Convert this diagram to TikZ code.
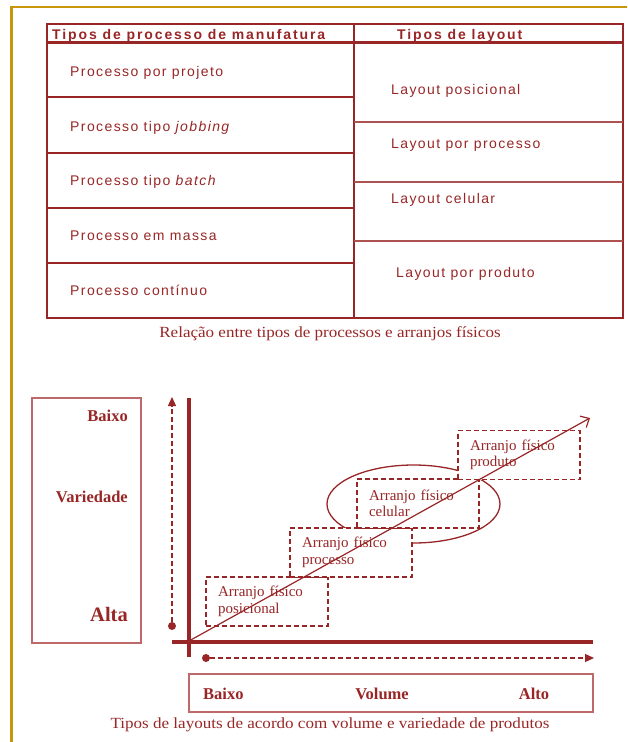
\documentclass[tikz,border=0pt]{standalone}
\usepackage{fontspec}
\setmainfont{Liberation Serif}
\newfontfamily\tabfont[LetterSpace=10]{Liberation Sans}
\newfontfamily\headfont[LetterSpace=13.5]{Liberation Sans}
\newfontfamily\capfont[FakeStretch=1.1]{Liberation Serif}
\usetikzlibrary{arrows.meta,shapes.geometric,positioning}
\definecolor{wine}{RGB}{152,38,38}
\definecolor{winelt}{RGB}{190,105,105}
\definecolor{gold}{RGB}{200,150,10}
\tikzset{
  % table rules
  tabrule/.style={draw=wine, line width=2.4pt},
  thinrule/.style={draw=wine!80, line width=1.3pt},
  % table texts
  celltext/.style={anchor=base west, inner sep=0pt, text=wine,
                   font=\tabfont\fontsize{14}{16}\selectfont},
  headtext/.style={celltext, font=\headfont\bfseries\fontsize{14}{16}\selectfont},
  % captions under each figure
  captext/.style={text=wine, inner sep=0pt, font=\capfont\fontsize{15.5}{17}\selectfont},
  % dashed layout boxes
  arranjo/.style={draw=wine, dash pattern=on 5pt off 3pt, line width=1.3pt, fill=white,
                  minimum width=122pt, minimum height=49pt, text width=98pt, inner xsep=12pt,
                  align=left, text=wine, font=\fontsize{15}{16.5}\selectfont},
  % axes and guides
  axis/.style={draw=wine, line width=4.5pt},
  guide/.style={draw=wine, line width=1.3pt, dash pattern=on 5pt off 3pt,
                -{Triangle[length=9pt,width=8pt]}},
  trend/.style={draw=wine, line width=1.2pt, -{Straight Barb[length=7pt,width=13pt]}},
  dot/.style={circle, fill=wine, inner sep=0pt, minimum size=8pt},
  % legend boxes
  legbox/.style={draw=winelt, line width=1.2pt, inner sep=0pt},
  legtext/.style={text=wine, inner sep=0pt, font=\bfseries\fontsize{16.5}{18}\selectfont},
}
\begin{document}
\begin{tikzpicture}[x=1pt, y=-1pt]
  \useasboundingbox (0,0) rectangle (627,742);
  % frame
  \draw[gold, line width=2.6pt] (627,7) -- (11.5,7) -- (11.5,742);

  % table of process and layout types
  \draw[tabrule] (47,24) rectangle (623,318);
  \draw[tabrule] (47,42.5) -- (623,42.5);
  \draw[tabrule] (354,24) -- (354,318);
  \foreach \y in {97,153,208,263}
    \draw[tabrule] (47,\y) -- (354,\y);
  \foreach \y in {122,182,241}
    \draw[thinrule] (354,\y) -- (623,\y);

  \node[headtext] (hproc) at (52,39) {Tipos de processo de manufatura};
  \node[headtext] (hlay) at (397,39) {Tipos de layout};

  \node[celltext] (projeto) at (70,76) {Processo por projeto};
  \node[celltext] (jobbing) at (70,131) {Processo tipo \textit{jobbing}};
  \node[celltext] (batch) at (70,185) {Processo tipo \textit{batch}};
  \node[celltext] (massa) at (70,240) {Processo em massa};
  \node[celltext] (continuo) at (70,295) {Processo contínuo};

  \node[celltext] (lposic) at (391,94) {Layout posicional};
  \node[celltext] (lproc) at (391,148) {Layout por processo};
  \node[celltext] (lcelul) at (391,203) {Layout celular};
  \node[celltext] (lprod) at (396,277) {Layout por produto};

  \node[captext] (cap1) at (330,334) {Relação entre tipos de processos e arranjos físicos};

  % variety scale
  \node[legbox, minimum width=109pt, minimum height=245pt] (varbox) at (86.5,520.5) {};
  \node[legtext, anchor=base east] (vbaixo) at (128,421) {Baixo};
  \node[legtext, anchor=base east] (vvar) at (128,502) {Variedade};
  \node[legtext, anchor=base east, font=\bfseries\fontsize{20.5}{22}\selectfont] (valta) at (128,621) {Alta};

  % volume scale
  \node[legbox, minimum width=404pt, minimum height=38pt] (volbox) at (391,693) {};
  \node[legtext, anchor=base west] (hbaixo) at (203,699) {Baixo};
  \node[legtext, anchor=base] (hvol) at (382,699) {Volume};
  \node[legtext, anchor=base] (halto) at (534,699) {Alto};

  % axes
  \coordinate (o) at (189,641);
  \draw[axis] (189,398) -- (189,657);
  \draw[axis] (172,642) -- (593,642);

  \node[dot] (vdot) at (172,626) {};
  \coordinate (vtip) at (172,397);
  \draw[guide] (vdot) -- (vtip);
  \node[dot] (hdot) at (206,658) {};
  \coordinate (htip) at (594,658);
  \draw[guide] (hdot) -- (htip);

  % cellular group and layout boxes
  \node[ellipse, draw=wine, line width=1.3pt, minimum width=173pt, minimum height=78pt]
    (grupo) at (413.5,504) {};
  \node[arranjo] (posic) at (267,601.5) {Arranjo físico\\posicional};
  \node[arranjo] (proc) at (351,552.5) {Arranjo físico\\processo};
  \node[arranjo] (celul) at (418,503.5) {Arranjo físico\\celular};
  \node[arranjo] (prod) at (519,455) {Arranjo físico\\produto};

  \coordinate (dtip) at (590,418);
  \draw[trend] (o) -- (dtip);

  \node[captext] (cap2) at (330,725) {Tipos de layouts de acordo com volume e variedade de produtos};
\end{tikzpicture}
\end{document}
